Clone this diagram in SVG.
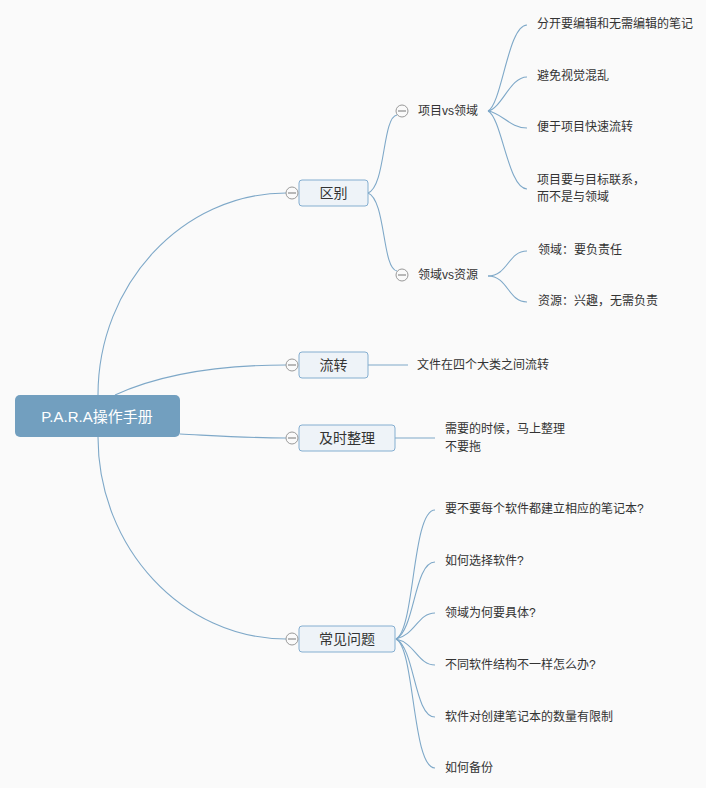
<svg xmlns="http://www.w3.org/2000/svg" width="706" height="788" viewBox="0 0 706 788">
<style>
text{font-family:"Liberation Sans","Noto Sans CJK SC",sans-serif;fill:#333;dominant-baseline:central}
.leaf{font-size:12px}
.main{font-size:14px;text-anchor:middle}
.box{fill:#eef3f8;stroke:#84aed0;stroke-width:1}
.c path,.c line{fill:none;stroke:#7ea8c8;stroke-width:1.1}
.tog circle{fill:#fafafa;stroke:#999;stroke-width:1}
.tog line{stroke:#777;stroke-width:1}
</style>
<defs>
<g id="tg" class="tog"><circle cx="0" cy="0" r="6"/><line x1="-4" y1="0" x2="4" y2="0"/></g>
</defs>
<rect width="706" height="788" fill="#fafafa"/>
<g id="connectors" class="c">
<path d="M98 395 C98 284 183 193 286 193"/>
<path d="M115 395 C165 372 230 365 286 365"/>
<path d="M180 434 C220 436 250 438 286 438"/>
<path d="M98 437 C98 548 183 639 286 639"/>
<path d="M368 193 C386 186 382 117 397 115"/>
<path d="M368 193 C386 200 382 269 397 271"/>
<path d="M488 111 C502 104 508 25 527 25"/>
<path d="M488 111 C502 108 510 77 527 77"/>
<path d="M488 111 C502 113 510 128 527 128"/>
<path d="M488 111 C502 118 508 189 527 189"/>
<path d="M488 276 C508 276 508 251 527 251"/>
<path d="M488 276 C508 276 508 302 527 302"/>
<line x1="368" y1="365" x2="408" y2="365"/>
<line x1="395" y1="438" x2="435" y2="438"/>
<path d="M396 639 C415 630 412 510 435 510"/>
<path d="M396 639 C415 630 414 562 435 562"/>
<path d="M396 639 C415 635 418 613 435 613"/>
<path d="M396 639 C415 643 418 665 435 665"/>
<path d="M396 639 C415 648 414 717 435 717"/>
<path d="M396 639 C415 648 412 768 435 768"/>
</g>
<g id="root">
<rect x="15" y="395" width="165" height="42" rx="5" fill="#729fbf"/>
<text x="97" y="416" style="font-size:15px;fill:#fff;text-anchor:middle">P.A.R.A操作手册</text>
</g>
<g id="n-qubie">
<rect class="box" x="299" y="180" width="69" height="26" rx="3"/>
<text class="main" x="333.5" y="193">区别</text>
<use href="#tg" x="292" y="193"/>
</g>
<g id="n-liuzhuan">
<rect class="box" x="299" y="352" width="69" height="26" rx="3"/>
<text class="main" x="333.5" y="365">流转</text>
<use href="#tg" x="292" y="365"/>
</g>
<g id="n-jishi">
<rect class="box" x="299" y="425" width="96" height="26" rx="3"/>
<text class="main" x="347" y="438">及时整理</text>
<use href="#tg" x="292" y="438"/>
</g>
<g id="n-changjian">
<rect class="box" x="299" y="626" width="96" height="26" rx="3"/>
<text class="main" x="347" y="639">常见问题</text>
<use href="#tg" x="292" y="639"/>
</g>
<g id="n-xiangmu">
<use href="#tg" x="402" y="111"/>
<text class="leaf" x="418" y="111">项目vs领域</text>
</g>
<g id="n-lingyu">
<use href="#tg" x="402" y="275"/>
<text class="leaf" x="418" y="275">领域vs资源</text>
</g>
<g id="l1"><text class="leaf" x="537" y="24">分开要编辑和无需编辑的笔记</text></g>
<g id="l2"><text class="leaf" x="537" y="76">避免视觉混乱</text></g>
<g id="l3"><text class="leaf" x="537" y="127">便于项目快速流转</text></g>
<g id="l4"><text class="leaf" x="537" y="180">项目要与目标联系，</text><text class="leaf" x="537" y="197">而不是与领域</text></g>
<g id="l5"><text class="leaf" x="538" y="250">领域：要负责任</text></g>
<g id="l6"><text class="leaf" x="538" y="301">资源：兴趣，无需负责</text></g>
<g id="l7"><text class="leaf" x="417" y="365">文件在四个大类之间流转</text></g>
<g id="l8"><text class="leaf" x="445" y="429">需要的时候，马上整理</text><text class="leaf" x="445" y="447">不要拖</text></g>
<g id="q1"><text class="leaf" x="445" y="509">要不要每个软件都建立相应的笔记本?</text></g>
<g id="q2"><text class="leaf" x="445" y="561">如何选择软件?</text></g>
<g id="q3"><text class="leaf" x="445" y="613">领域为何要具体?</text></g>
<g id="q4"><text class="leaf" x="445" y="665">不同软件结构不一样怎么办?</text></g>
<g id="q5"><text class="leaf" x="445" y="717">软件对创建笔记本的数量有限制</text></g>
<g id="q6"><text class="leaf" x="445" y="768">如何备份</text></g>
</svg>
